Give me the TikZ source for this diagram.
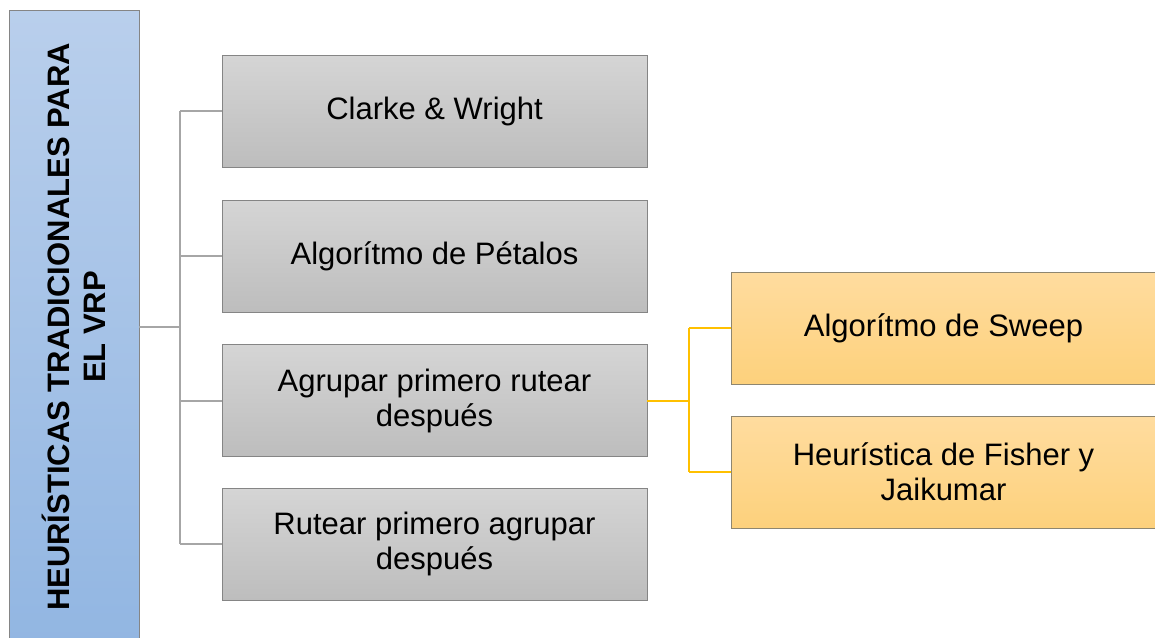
\documentclass[tikz,border=0pt]{standalone}
\usepackage{fontspec}
\setmainfont{Liberation Sans}
\definecolor{rootTop}{HTML}{B9CFEC}
\definecolor{rootBot}{HTML}{92B6E2}
\definecolor{grayTop}{HTML}{D5D5D5}
\definecolor{grayBot}{HTML}{BDBDBD}
\definecolor{grayEdge}{HTML}{858585}
\definecolor{orangeTop}{HTML}{FFDC9F}
\definecolor{orangeBot}{HTML}{FDD17C}
\definecolor{orangeEdge}{HTML}{8E8670}
\definecolor{grayLine}{HTML}{A6A6A6}
\definecolor{orangeLine}{HTML}{FFC000}
\tikzset{
  rootbox/.style={draw=grayEdge, line width=0.8pt, top color=rootTop, bottom color=rootBot,
    minimum width=634pt, minimum height=130pt, align=center, inner sep=0pt,
    font=\fontsize{31}{36}\selectfont\bfseries},
  graybox/.style={draw=grayEdge, line width=0.8pt, top color=grayTop, bottom color=grayBot,
    minimum width=425pt, minimum height=112pt, align=center, inner sep=0pt,
    font=\fontsize{31}{35}\selectfont},
  orangebox/.style={graybox, draw=orangeEdge, top color=orangeTop, bottom color=orangeBot},
  grayline/.style={draw=grayLine, line width=2pt},
  orangeline/.style={draw=orangeLine, line width=2pt}
}

\begin{document}
\begin{tikzpicture}[x=1pt,y=-1pt]
    \useasboundingbox (0,0) rectangle (1155,637);
    % root
    \node[rootbox, rotate=90] (root) at (74,327) {HEURÍSTICAS TRADICIONALES PARA\\EL VRP};
    % first level
    \node[graybox] (clarke) at (434.5,111) {Clarke \& Wright};
    \node[graybox] (petalos) at (434.5,256) {Algorítmo de Pétalos};
    \node[graybox] (agrupar) at (434.5,400.5) {Agrupar primero rutear\\después};
    \node[graybox] (rutear) at (434.5,544) {Rutear primero agrupar\\después};
    % second level
    \node[orangebox] (sweep) at (943.5,328) {Algorítmo de Sweep};
    \node[orangebox] (fisher) at (943.5,472) {Heurística de Fisher y\\Jaikumar};
    % connectors
    \coordinate (trunk) at (180,327);
    \draw[grayline] (root.south) -- (trunk);
    \draw[grayline] (trunk |- clarke.west) -- (trunk |- rutear.west);
    \foreach \n in {clarke,petalos,agrupar,rutear}
        \draw[grayline] (trunk |- \n.west) -- (\n.west);
    \coordinate (split) at (689,400);
    \draw[orangeline] (agrupar.east) -- (split |- agrupar.east);
    \draw[orangeline] (split |- sweep.west) -- (split |- fisher.west);
    \foreach \n in {sweep,fisher}
        \draw[orangeline] (split |- \n.west) -- (\n.west);
\end{tikzpicture}
\end{document}
